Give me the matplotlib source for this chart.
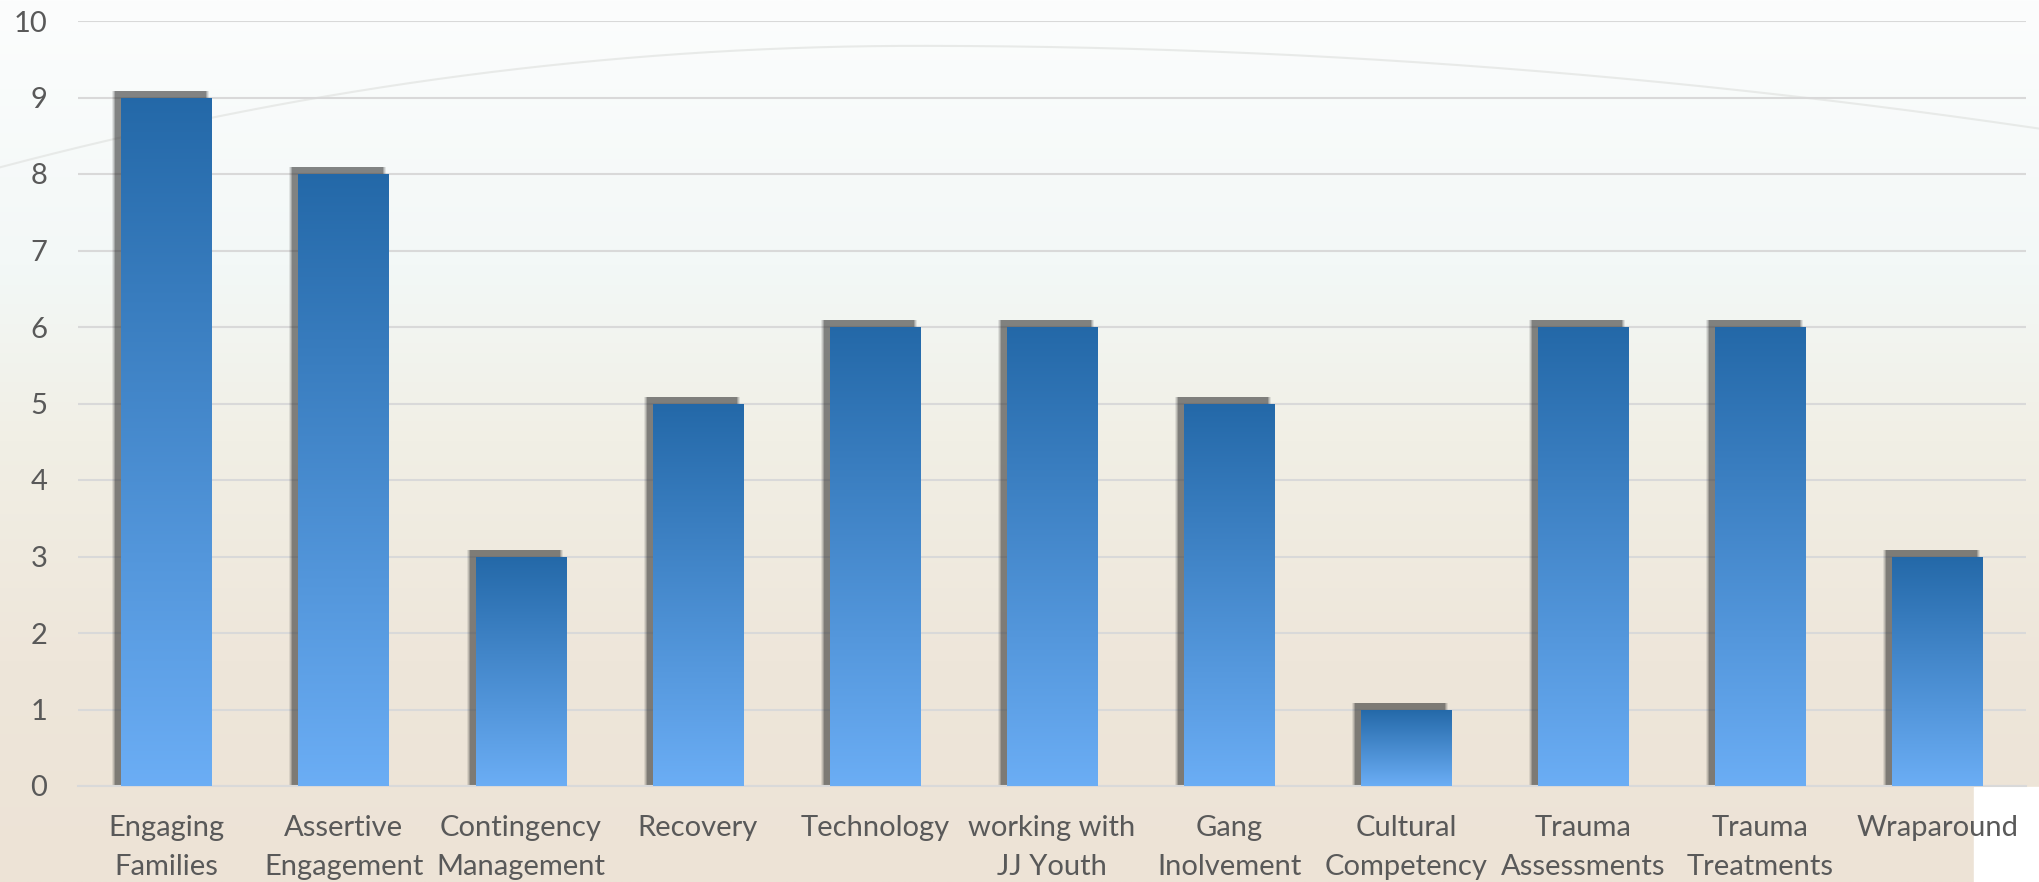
import matplotlib
matplotlib.use('Agg')
import matplotlib.pyplot as plt
import numpy as np
from matplotlib.patches import Rectangle

# data
topics = ['Engaging\nFamilies', 'Assertive\nEngagement', 'Contingency\nManagement',
          'Recovery', 'Technology', 'working with\nJJ Youth', 'Gang\nInolvement',
          'Cultural\nCompetency', 'Trauma\nAssessments', 'Trauma\nTreatments', 'Wraparound']
counts = [9, 8, 3, 5, 6, 6, 5, 1, 6, 6, 3]
yticks = list(range(0, 11))

plt.rcParams['font.family'] = ['Lato', 'DejaVu Sans']
txt = '#595959'

fig = plt.figure(figsize=(20.39, 8.82), dpi=100)

# background gradient (white/cyan at top -> beige at bottom)
bg = fig.add_axes([0, 0, 1, 1], zorder=-10)
t = np.linspace(0, 1, 400)
stops = [0.0, 0.3, 0.5, 0.75, 1.0]
rgb = [(252, 253, 253), (243, 248, 247), (241, 239, 229), (238, 230, 218), (237, 227, 214)]
col = np.stack([np.interp(t, stops, [c[i] for c in rgb]) for i in range(3)], axis=-1) / 255
col = np.repeat(col[:, None, :], 4, axis=1)
bg.imshow(col, aspect='auto', extent=(0, 1, 0, 1), origin='upper')
# faint arc
xa = np.linspace(0, 1, 300)
ya = np.where(xa < 0.45, 0.948 - 0.68 * (xa - 0.45) ** 2, 0.948 - 0.31 * (xa - 0.45) ** 2)
bg.plot(xa, ya, color='#e4e6e4', lw=1.5, alpha=0.8)
# white corner bottom right
bg.add_patch(Rectangle((1974 / 2039, 0), 1, (882 - 787) / 882, color='white', zorder=5))
bg.set_xlim(0, 1)
bg.set_ylim(0, 1)
bg.axis('off')

ax = fig.add_axes([78 / 2039, (882 - 786) / 882, (2026 - 78) / 2039, (786 - 21) / 882])
ax.patch.set_alpha(0)
x = np.arange(len(topics))
bw = 0.51

# soft shadow, offset up-left
for k, a in [(3, 0.10), (2, 0.15), (1, 0.22), (0, 0.3)]:
    ax.bar(x - 6 / 177, [c + 7 / 76.5 for c in counts], bw + k * 2 / 177,
           color='#303030', alpha=a, zorder=2, linewidth=0)

bars = ax.bar(x, counts, bw, color='none', zorder=3, linewidth=0)
grad = np.linspace(0, 1, 256)[:, None]
c_top = np.array([0.14, 0.41, 0.66])
c_bot = np.array([0.42, 0.68, 0.96])
img = c_top * (1 - grad[..., None]) + c_bot * grad[..., None]
img = np.repeat(img, 2, axis=1)
for b in bars:
    x0, w0, h = b.get_x(), b.get_width(), b.get_height()
    im = ax.imshow(img, aspect='auto', extent=(x0, x0 + w0, 0, h), origin='upper', zorder=3)
    im.set_clip_path(b)

ax.set_xlim(-0.5, 10.5)
ax.set_ylim(0, 10)
ax.set_yticks(yticks)
ax.set_xticks(x)
ax.set_xticklabels(topics, linespacing=1.6)
ax.grid(axis='y', color='#d9d9d9', lw=1.5, zorder=0)
ax.set_axisbelow(True)
for s in ['left', 'right', 'top']:
    ax.spines[s].set_visible(False)
ax.spines['bottom'].set_color('#d9d9d9')
ax.spines['bottom'].set_linewidth(1.5)
ax.tick_params(axis='both', length=0, labelsize=21, labelcolor=txt)
ax.tick_params(axis='x', pad=21)
ax.tick_params(axis='y', pad=22)
for lab in ax.get_xticklabels():
    lab.set_verticalalignment('top')

fig.savefig('out.png', dpi=100)
